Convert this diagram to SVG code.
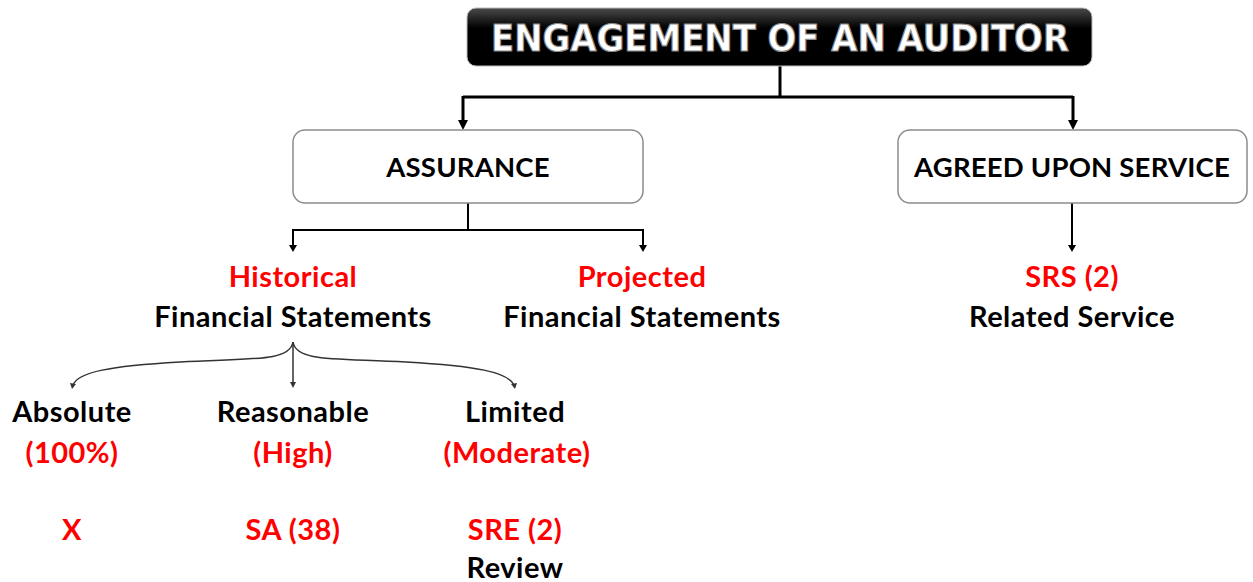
<svg xmlns="http://www.w3.org/2000/svg" width="1253" height="582" viewBox="0 0 1253 582">
<style>
.t{font-family:Lato,"Liberation Sans",Arial,sans-serif;font-weight:bold;font-size:29px;letter-spacing:0.5px;text-anchor:middle;fill:#000}
.b{font-size:27.5px;letter-spacing:0.2px}
.r{fill:#ff0000}
.box{fill:#fff;stroke:#8c8c8c;stroke-width:1.5}
.c1{fill:none;stroke:#000;stroke-width:3}
.c2{fill:none;stroke:#000;stroke-width:2}
.c3{fill:none;stroke:#333;stroke-width:1.5}
</style>
<defs>
<linearGradient id="g" x1="0" y1="0" x2="0" y2="1">
<stop offset="0" stop-color="#4a4a4a"/>
<stop offset="0.35" stop-color="#000"/>
<stop offset="1" stop-color="#000"/>
</linearGradient>
</defs>
<g id="connectors">
<path class="c1" d="M780,66 V97"/>
<path class="c1" d="M463,97 H1073"/>
<path class="c1" d="M463,96 V122"/>
<path d="M458,120 L468,120 L463,130 Z"/>
<path class="c1" d="M1073,96 V122"/>
<path d="M1068,120 L1078,120 L1073,130 Z"/>
<path class="c2" d="M468,203 V230"/>
<path class="c2" d="M293,230 H643"/>
<path class="c2" d="M293,229 V246"/>
<path d="M289,245 L297,245 L293,252 Z"/>
<path class="c2" d="M643,229 V246"/>
<path d="M639,245 L647,245 L643,252 Z"/>
<path class="c2" d="M1072,203 V246"/>
<path d="M1068,245 L1076,245 L1072,252 Z"/>
<path class="c3" d="M293,342 C290,362 250,358 180,362 C110,366 78,372 73,385"/>
<path d="M70,383 L76,384 L72,389 Z" fill="#333"/>
<path class="c3" d="M293,342 C296,362 336,358 406,362 C476,366 508,372 514,385"/>
<path d="M511,384 L517,383 L515,389 Z" fill="#333"/>
<path class="c3" d="M293,342 V383"/>
<path d="M290,382 L296,382 L293,388 Z" fill="#333"/>
</g>
<g id="title">
<rect x="467" y="8" width="625" height="58" rx="9" fill="url(#g)" stroke="#bbb" stroke-width="1"/>
<text x="780" y="51" font-family="'DejaVu Sans',sans-serif" font-weight="bold" font-size="38" text-anchor="middle" fill="#fff" stroke="#8a8a8a" stroke-width="1.2" textLength="578" lengthAdjust="spacingAndGlyphs">ENGAGEMENT OF AN AUDITOR</text>
</g>
<g id="assurance">
<rect class="box" x="293" y="130" width="350" height="73" rx="12"/>
<text class="t b" x="468" y="177">ASSURANCE</text>
</g>
<g id="agreed">
<rect class="box" x="898" y="130" width="349" height="73" rx="12"/>
<text class="t b" x="1072" y="177">AGREED UPON SERVICE</text>
</g>
<g id="historical">
<text class="t r" x="293" y="287">Historical</text>
<text class="t" x="293" y="327">Financial Statements</text>
</g>
<g id="projected">
<text class="t r" x="642" y="287">Projected</text>
<text class="t" x="642" y="327">Financial Statements</text>
</g>
<g id="srs">
<text class="t r" x="1072" y="287">SRS (2)</text>
<text class="t" x="1072" y="327">Related Service</text>
</g>
<g id="absolute">
<text class="t" x="72" y="422">Absolute</text>
<text class="t r" x="72" y="463">(100%)</text>
<text class="t r" x="72" y="540">X</text>
</g>
<g id="reasonable">
<text class="t" x="293" y="422">Reasonable</text>
<text class="t r" x="293" y="463">(High)</text>
<text class="t r" x="293" y="540">SA (38)</text>
</g>
<g id="limited">
<text class="t" x="515" y="422">Limited</text>
<text class="t r" x="517" y="463">(Moderate)</text>
<text class="t r" x="515" y="540">SRE (2)</text>
<text class="t" x="515" y="578">Review</text>
</g>
</svg>
